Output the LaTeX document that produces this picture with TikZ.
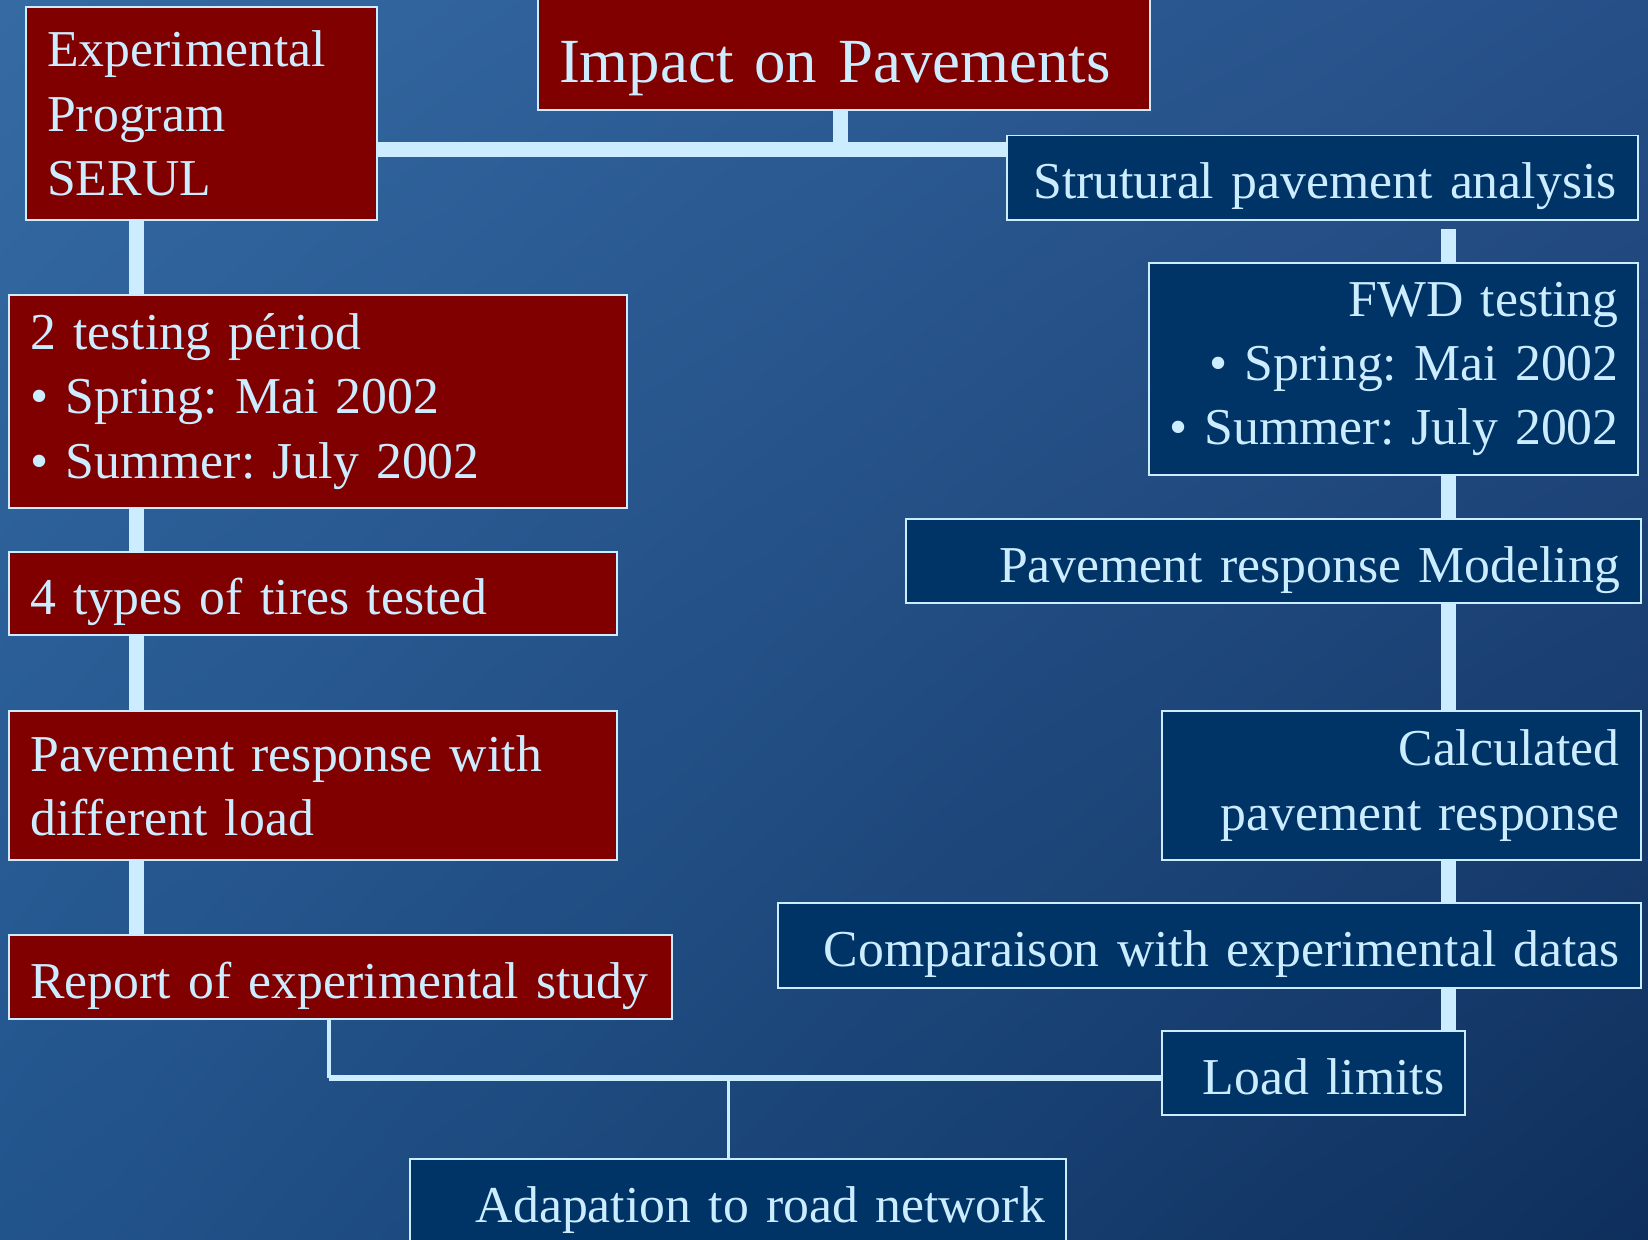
\documentclass[tikz,border=0pt]{standalone}
\usepackage{fontspec}
\setmainfont{Liberation Serif}
\usepackage{xcolor}
\usetikzlibrary{positioning,calc,shadings}

\definecolor{boxred}{HTML}{800000}
\definecolor{boxblue}{HTML}{003366}
\definecolor{linkblue}{HTML}{CCECFF}
\definecolor{bgtl}{HTML}{356AA3}
\definecolor{bgtr}{HTML}{264F88}
\definecolor{bgbl}{HTML}{22548C}
\definecolor{bgbr}{HTML}{0E2F5C}

\tikzset{
	box/.style={rectangle, draw=linkblue, line width=0.5pt, text=linkblue, anchor=north west,
		inner xsep=0.2cm, inner ysep=0pt, font=\fontsize{14}{17.4}\selectfont\frenchspacing},
	redbox/.style={box, fill=boxred, align=left},
	bluebox/.style={box, fill=boxblue, align=right},
	oneline/.style={text height=0.45cm, text depth=0.05cm},
	thickline/.style={draw=linkblue, line width=0.14cm},
	thinline/.style={draw=linkblue, line width=1.1pt},
}

\begin{document}
\begin{tikzpicture}[x=0.01cm, y=-0.01cm]
	\useasboundingbox (0,0) rectangle (1568,1179);
	\clip (0,0) rectangle (1568,1179);
	\shade[upper left=bgtl, upper right=bgtr, lower left=bgbl, lower right=bgbr] (0,0) rectangle (1568,1179);

	% left column
	\node[redbox, minimum width=3.34cm, minimum height=2.02cm, text width=2.94cm] (serul) at (24,6) {Experimental\\Program\\SERUL};
	\node[redbox, minimum width=5.87cm, minimum height=2.02cm, text width=5.47cm] (test) at (8,280) {2 testing périod\\\textbullet\ Spring: Mai 2002\\\textbullet\ Summer: July 2002};
	\node[redbox, oneline, minimum width=5.78cm, minimum height=0.79cm, text width=5.38cm] (tires) at (8,524) {4 types of tires tested};
	\node[redbox, minimum width=5.78cm, minimum height=1.41cm, text width=5.38cm] (load) at (8,676) {Pavement response with\\different load};
	\node[redbox, oneline, minimum width=6.30cm, minimum height=0.80cm, text width=5.90cm] (report) at (8,889) {Report of experimental study};

	% title
	\node[redbox, minimum width=5.82cm, text width=5.42cm, text height=0.98cm, text depth=0.26cm,
		font=\fontsize{17}{20}\selectfont] (impact) at (511,-20) {Impact on Pavements};

	% right column
	\node[bluebox, oneline, minimum width=6.00cm, minimum height=0.80cm, text width=5.60cm] (strut) at (957,128) {Strutural pavement analysis};
	\node[bluebox, minimum width=4.65cm, minimum height=2.02cm, inner xsep=0.18cm, text width=4.29cm] (fwd) at (1092,249) {FWD testing\\\textbullet\ Spring: Mai 2002\\\textbullet\ Summer: July 2002};
	\node[bluebox, oneline, minimum width=6.99cm, minimum height=0.80cm, text width=6.59cm] (model) at (861,493) {Pavement response Modeling};
	\node[bluebox, minimum width=4.55cm, minimum height=1.41cm, text width=4.15cm] (calc) at (1105,676) {Calculated\\pavement response};
	\node[bluebox, oneline, minimum width=8.21cm, minimum height=0.81cm, text width=7.81cm] (compare) at (739,858) {Comparaison with experimental datas};
	\node[bluebox, oneline, minimum width=2.88cm, minimum height=0.80cm, text width=2.48cm] (limits) at (1105,980) {Load limits};
	\node[bluebox, oneline, minimum width=6.24cm, minimum height=0.80cm, text width=5.84cm] (adapt) at (389,1102) {Adapation to road network};

	% connectors
	\coordinate (hub) at (800,142);
	\coordinate (lx) at (130,0);
	\coordinate (rx) at (1378,0);
	\coordinate (bx) at (313,1026);
	\coordinate (ax) at (693,1026);

	\draw[thickline] (impact.south -| hub) -- (hub);
	\draw[thickline] (serul.east |- hub) -- (strut.west |- hub);
	\foreach \a/\b in {serul/test, test/tires, tires/load, load/report}
		\draw[thickline] (\a.south -| lx) -- (\b.north -| lx);
	\draw[thickline] (fwd.north -| rx) -- ++(0,-31);
	\foreach \a/\b in {fwd/model, model/calc, calc/compare, compare/limits}
		\draw[thickline] (\a.south -| rx) -- (\b.north -| rx);

	\draw[thinline] (report.south -| bx) -- (bx);
	\draw[thinline, line width=1.6pt] (bx) -- (limits.west |- bx);
	\draw[thinline, line width=0.9pt] (ax) -- (adapt.north -| ax);
\end{tikzpicture}
\end{document}
